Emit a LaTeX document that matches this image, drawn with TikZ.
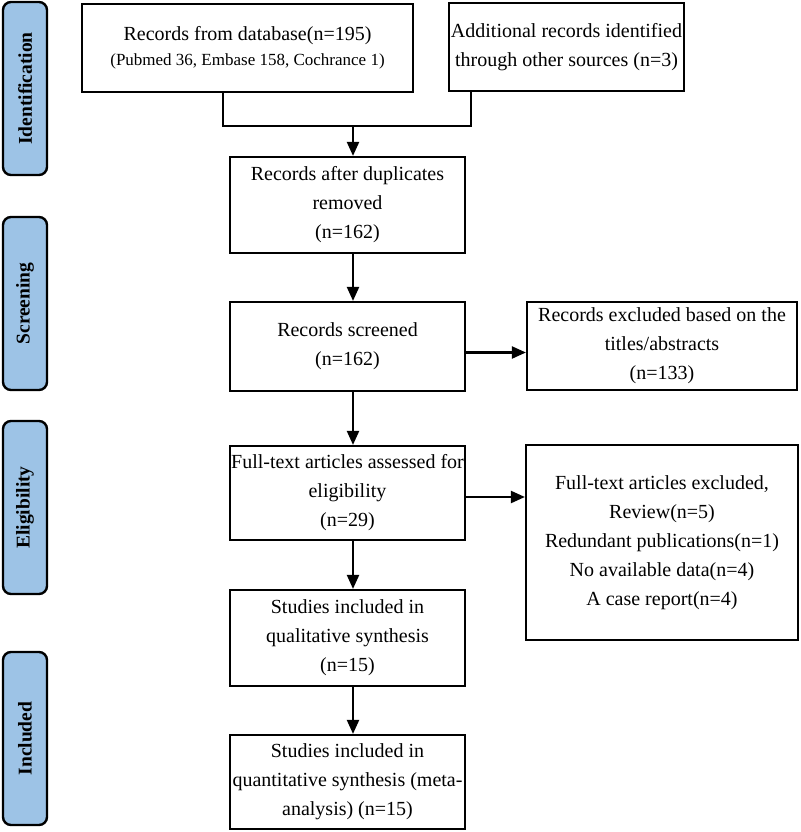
\documentclass[tikz,border=0pt]{standalone}
\usepackage{fontspec}
\setmainfont{Liberation Serif}
\usetikzlibrary{arrows.meta}
\definecolor{labelblue}{RGB}{157,195,230}
\begin{document}
\begin{tikzpicture}[x=1pt,y=-1pt,
  box/.style={draw, line width=2.2pt, align=center, inner sep=0pt,
    font=\fontsize{20}{29}\selectfont},
  phase/.style={draw, line width=2.4pt, fill=labelblue, rounded corners=8pt,
    rotate=90, minimum width=173pt, minimum height=44pt, inner sep=0pt,
    font=\bfseries\fontsize{19.5}{21}\selectfont},
  conn/.style={line width=2.2pt},
  arr/.style={line width=2.2pt, -{Triangle[length=14pt,width=12pt]}}]
\useasboundingbox (0,0) rectangle (800,832);
% phase labels
\node[phase] (pid) at (25,88.5) {Identification};
\node[phase] (psc) at (25,303.5) {Screening};
\node[phase] (pel) at (25,507.5) {Eligibility};
\node[phase] (pin) at (25,738.5) {Included};
% boxes
\node[box, minimum width=331pt, minimum height=88pt] (b1) at (247.5,48)
  {\raisebox{-3pt}{Records from database(n=195)}\\[-1pt]{\fontsize{17}{20}\selectfont (Pubmed 36, Embase 158, Cochrance 1)}};
\node[box, minimum width=235pt, minimum height=88pt] (b2) at (566.5,47)
  {Additional records identified\\through other sources (n=3)};
\node[box, minimum width=235pt, minimum height=96pt] (b3) at (347.5,205)
  {Records after duplicates\\removed\\(n=162)};
\node[box, minimum width=235pt, minimum height=89pt] (b4) at (347.5,346.5)
  {\raisebox{-4pt}{Records screened}\\\raisebox{-4pt}{(n=162)}};
\node[box, minimum width=270pt, minimum height=88pt] (b6) at (662,346)
  {Records excluded based on the\\titles/abstracts\\(n=133)};
\node[box, minimum width=235pt, minimum height=94pt] (b5) at (347.5,493)
  {Full-text articles assessed for\\eligibility\\(n=29)};
\node[box, minimum width=272pt, minimum height=195pt] (b7) at (662,542.5)
  {Full-text articles excluded,\\Review(n=5)\\Redundant publications(n=1)\\No available data(n=4)\\A case report(n=4)};
\node[box, minimum width=235pt, minimum height=96pt] (b8) at (347.5,638)
  {Studies included in\\qualitative synthesis\\(n=15)};
\node[box, minimum width=235pt, minimum height=94pt] (b9) at (347.5,782)
  {Studies included in\\quantitative synthesis (meta-\\analysis) (n=15)};
% connectors
\coordinate (j1) at (223,126);
\coordinate (j2) at (471,126);
\coordinate (jm) at (353,126);
\draw[conn] (b1.south -| j1) -- (j1) -- (j2) -- (b2.south -| j2);
\draw[arr] (jm) -- (b3.north -| jm);
\draw[arr] (b3.south -| jm) -- (b4.north -| jm);
\draw[arr] (b4.south -| jm) -- (b5.north -| jm);
\draw[arr] (b5.south -| jm) -- (b8.north -| jm);
\draw[arr] (b8.south -| jm) -- (b9.north -| jm);
\draw[arr] ([yshift=-6pt]b4.east) -- ([yshift=-6pt]b4.east -| b6.west);
\draw[arr] ([yshift=-4pt]b5.east) -- ([yshift=-4pt]b5.east -| b7.west);
\end{tikzpicture}
\end{document}
